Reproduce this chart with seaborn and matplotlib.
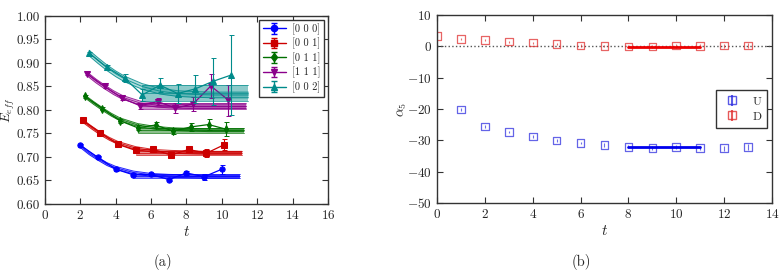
import numpy as np
import pandas as pd
import matplotlib
matplotlib.use("Agg")
import matplotlib.pyplot as plt
import seaborn as sns

# ---------------- data: panel (a) ----------------
labels_a = ["[0 0 0]", "[0 0 1]", "[0 1 1]", "[1 1 1]", "[0 0 2]"]
t_base = [2, 3, 4, 5, 6, 7, 8, 9, 10]
t_offsets = [0.0, 0.125, 0.25, 0.375, 0.5]

e000 = [0.725, 0.699, 0.674, 0.662, 0.663, 0.652, 0.666, 0.658, 0.674]
e001 = [0.778, 0.752, 0.727, 0.714, 0.716, 0.704, 0.716, 0.708, 0.726]
e011 = [0.829, 0.803, 0.777, 0.762, 0.768, 0.755, 0.764, 0.769, 0.759]
e111 = [0.877, 0.850, 0.825, 0.809, 0.818, 0.804, 0.813, 0.851, 0.821]
e002 = [0.921, 0.891, 0.868, 0.832, 0.853, 0.835, 0.845, 0.861, 0.874]

err000 = [0.003, 0.003, 0.003, 0.003, 0.003, 0.004, 0.005, 0.006, 0.010]
err001 = [0.003, 0.003, 0.003, 0.004, 0.004, 0.004, 0.006, 0.008, 0.012]
err011 = [0.003, 0.003, 0.004, 0.005, 0.006, 0.007, 0.009, 0.011, 0.015]
err111 = [0.003, 0.004, 0.004, 0.006, 0.008, 0.010, 0.015, 0.025, 0.033]
err002 = [0.003, 0.004, 0.008, 0.012, 0.015, 0.020, 0.030, 0.050, 0.085]

# fit curves (central values)
fit_t = [2, 2.5, 3, 3.5, 4, 5, 6, 7, 8, 9, 10, 11]
fit000 = [0.723, 0.708, 0.696, 0.685, 0.677, 0.667, 0.662, 0.660, 0.659, 0.658, 0.658, 0.658]
fit001 = [0.777, 0.763, 0.750, 0.739, 0.730, 0.719, 0.713, 0.711, 0.710, 0.709, 0.709, 0.709]
fit011 = [0.829, 0.815, 0.802, 0.790, 0.780, 0.768, 0.762, 0.759, 0.758, 0.757, 0.757, 0.757]
fit111 = [0.877, 0.862, 0.849, 0.837, 0.827, 0.815, 0.810, 0.808, 0.807, 0.807, 0.807, 0.807]
fit002 = [0.921, 0.905, 0.890, 0.877, 0.866, 0.850, 0.840, 0.835, 0.833, 0.832, 0.832, 0.832]
fit_halfwidth = [0.003, 0.003, 0.003, 0.004, 0.006]

# plateau bands (low, high)
plat_lo = [0.655, 0.704, 0.752, 0.802, 0.820]
plat_hi = [0.663, 0.713, 0.762, 0.815, 0.853]
plat_start = 5.0
plat_end = 11.0

colors_a = ["#0000ff", "#cc0000", "#007000", "#8b008b", "#008b8b"]
markers_a = ["o", "s", "d", "v", "^"]

# ---------------- data: panel (b) ----------------
tU = [1, 2, 3, 4, 5, 6, 7, 8, 9, 10, 11, 12, 13]
aU = [-20.2, -25.6, -27.3, -28.8, -30.0, -30.9, -31.5, -32.1, -32.4, -32.2, -32.4, -32.5, -32.1]
errU = [0.4, 0.4, 0.4, 0.4, 0.4, 0.4, 0.5, 0.5, 0.6, 0.6, 0.7, 0.8, 1.0]
tD = [0, 1, 2, 3, 4, 5, 6, 7, 8, 9, 10, 11, 12, 13]
aD = [3.2, 2.3, 2.0, 1.5, 1.2, 0.8, 0.3, 0.1, -0.1, 0.0, 0.2, 0.1, 0.2, 0.3]
errD = [0.3, 0.3, 0.3, 0.3, 0.3, 0.3, 0.4, 0.4, 0.5, 0.5, 0.6, 0.6, 0.7, 0.8]
fitU = -32.2
fitD = -0.1
fit_range = [8, 11]

# ---------------- style ----------------
sns.set_style("ticks")
plt.rcParams["font.family"] = ["cmr10", "DejaVu Serif"]
plt.rcParams["mathtext.fontset"] = "cm"
plt.rcParams["axes.formatter.use_mathtext"] = True
plt.rcParams["axes.unicode_minus"] = True
plt.rcParams["xtick.direction"] = "in"
plt.rcParams["ytick.direction"] = "in"
plt.rcParams["xtick.top"] = True
plt.rcParams["ytick.right"] = True

fig = plt.figure(figsize=(7.82, 2.76), dpi=100)
axA = fig.add_axes([0.0575, 0.2609, 0.3619, 0.6812])
axB = fig.add_axes([0.5588, 0.2645, 0.4284, 0.6812])

# ---------------- panel (a) ----------------
series_vals = [e000, e001, e011, e111, e002]
series_errs = [err000, err001, err011, err111, err002]
series_fits = [fit000, fit001, fit011, fit111, fit002]

for i, lab in enumerate(labels_a):
    c = colors_a[i]
    off = t_offsets[i]
    tt = np.array(t_base) + off
    ft = np.array(fit_t) + off
    fv = np.array(series_fits[i])
    hw = fit_halfwidth[i]
    # fit curve band
    axA.fill_between(ft, fv - hw, fv + hw, color=c, alpha=0.3, lw=0)
    for d in (-hw, 0, hw):
        axA.plot(ft, fv + d, color=c, lw=0.7, alpha=0.85)
    # plateau band
    px = np.array([plat_start, plat_end]) + off
    lo, hi = plat_lo[i], plat_hi[i]
    axA.fill_between(px, [lo, lo], [hi, hi], color=c, alpha=0.45, lw=0)
    for yv in (lo, (lo + hi) / 2, hi):
        axA.plot(px, [yv, yv], color=c, lw=0.6, alpha=0.8)
    # data points
    df = pd.DataFrame({"t": tt, "E": series_vals[i]})
    axA.errorbar(tt, series_vals[i], yerr=series_errs[i], fmt="none",
                 ecolor=c, elinewidth=0.8, capsize=1.8, capthick=0.7)
    sns.lineplot(data=df, x="t", y="E", ax=axA, color=c, lw=0.9,
                 marker=markers_a[i], markersize=3.8, markeredgecolor=c,
                 legend=False)

handles = []
for i, lab in enumerate(labels_a):
    h = axA.errorbar([np.nan], [np.nan], yerr=[np.nan], color=colors_a[i],
                     marker=markers_a[i], markersize=4.5, lw=1.0, capsize=2,
                     label=lab)
    handles.append(h)
legA = axA.legend(handles=handles, labels=labels_a, loc="upper right",
                  fontsize=7.5, frameon=True, fancybox=False, framealpha=1,
                  edgecolor="#333333", borderaxespad=0.35, handlelength=2.2,
                  labelspacing=0.3, borderpad=0.35, handletextpad=0.6)
legA.get_frame().set_linewidth(1.0)

axA.set_xlim(0, 16)
axA.set_ylim(0.60, 1.00)
axA.set_xticks(np.arange(0, 17, 2))
axA.set_yticks(np.arange(0.60, 1.001, 0.05))
axA.set_yticklabels([f"{v:.2f}" for v in np.arange(0.60, 1.001, 0.05)])
axA.set_xlabel("$t$", fontsize=11, labelpad=2)
axA.set_ylabel("$E_{eff}$", fontsize=9.5)
axA.yaxis.set_label_coords(-0.099, 0.5)

# ---------------- panel (b) ----------------
axB.axhline(0, color="#555555", ls=":", lw=1.0, zorder=1)
dfU = pd.DataFrame({"t": tU, "a": aU})
dfD = pd.DataFrame({"t": tD, "a": aD})
cU = "#3030e0"
cD = "#e03030"
axB.errorbar(tU, aU, yerr=errU, fmt="none", ecolor=cU, alpha=0.7, elinewidth=0.8)
axB.errorbar(tD, aD, yerr=errD, fmt="none", ecolor=cD, alpha=0.7, elinewidth=0.8)
sns.scatterplot(data=dfU, x="t", y="a", ax=axB, marker="s", s=30,
                facecolors="none", edgecolor=cU, linewidth=0.9, alpha=0.75,
                legend=False)
sns.scatterplot(data=dfD, x="t", y="a", ax=axB, marker="s", s=30,
                facecolors="none", edgecolor=cD, linewidth=0.9, alpha=0.75,
                legend=False)
axB.plot(fit_range, [fitU, fitU], color="#0000ee", lw=2.0)
axB.plot(fit_range, [fitD, fitD], color="#ee0000", lw=2.0)

hU = axB.errorbar([np.nan], [np.nan], yerr=[np.nan], fmt="s", mfc="none",
                  mec=cU, ecolor=cU, ms=6, alpha=0.8)
hD = axB.errorbar([np.nan], [np.nan], yerr=[np.nan], fmt="s", mfc="none",
                  mec=cD, ecolor=cD, ms=6, alpha=0.8)
legB = axB.legend([hU, hD], ["U", "D"], loc="center right", fontsize=8.5,
                  frameon=True, fancybox=False, framealpha=1,
                  edgecolor="#333333", borderaxespad=0.4, handlelength=1.8,
                  borderpad=0.5, labelspacing=0.4)
legB.get_frame().set_linewidth(1.0)

axB.set_xlim(0, 14)
axB.set_ylim(-50, 10)
axB.set_xticks(np.arange(0, 15, 2))
axB.set_yticks(np.arange(-50, 11, 10))
axB.set_xlabel("$t$", fontsize=11, labelpad=2)
axB.set_ylabel(r"$\alpha_5$", fontsize=10, labelpad=-1)

for ax in (axA, axB):
    ax.tick_params(labelsize=9.5, length=4, width=0.8, color="#333333")
    for s in ax.spines.values():
        s.set_linewidth(1.0)
        s.set_color("#333333")

fig.text(0.208, 0.05, "(a)", ha="center", va="center", fontsize=10.5)
fig.text(0.743, 0.05, "(b)", ha="center", va="center", fontsize=10.5)

fig.savefig("out.png", dpi=100)
